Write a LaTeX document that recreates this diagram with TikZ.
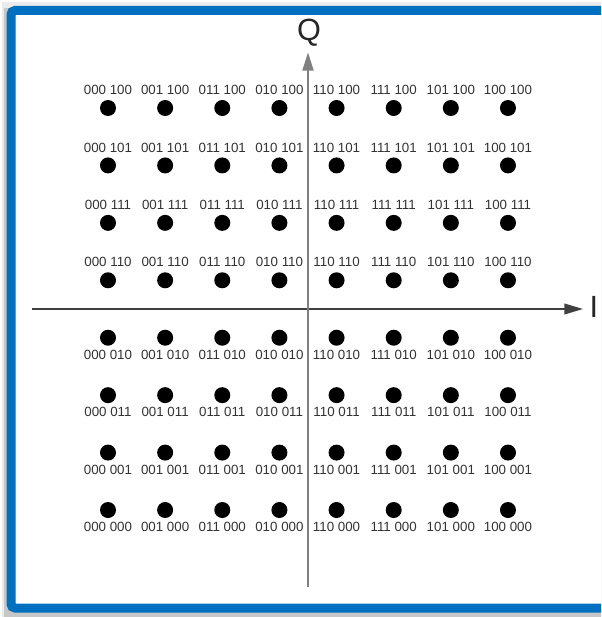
\documentclass[tikz,border=0pt]{standalone}
\usepackage{fontspec}
\setmainfont{Liberation Sans}
\usetikzlibrary{arrows.meta}
\definecolor{frameblue}{HTML}{0070C0}
\definecolor{labelgrey}{HTML}{333333}
\begin{document}
\begin{tikzpicture}[x=0.75pt,y=-0.75pt,
  symbol/.style={circle,fill=black,inner sep=0pt,minimum size=12pt},
  bits/.style={font=\fontsize{10}{10}\selectfont,text=labelgrey,inner sep=0pt},
  axislabel/.style={font=\fontsize{23}{24}\selectfont,text=black!85,inner sep=0pt},
  axisline/.style={-{Triangle[length=14pt,width=8pt]}}]
\useasboundingbox (0,0) rectangle (601,617);
\begin{scope}
  \clip (0,0) rectangle (601,617);
  % page background and soft drop shadow
  \fill[white] (0,0) rectangle (601,617);
  \fill[black!8] (2,2) rectangle (660,617);
  \fill[black!22] (4,8) rectangle (660,617);
  % blue frame
  \draw[frameblue,line width=6.75pt,fill=white,rounded corners=3pt]
    (11,10.5) rectangle (640,608);
\end{scope}

% constellation points: upper half labelled above, lower half below
\foreach \c [count=\i from 0] in {000,001,011,010,110,111,101,100}{
  \foreach \r [count=\j from 0] in {100,101,111,110}{
    \node[symbol,label={[bits,label distance=3.5pt]above:\c\ \r}]
      (p-\i-\j) at ({108+57.14*\i},{108+57.43*\j}) {};
  }
  \foreach \r [count=\j from 4] in {010,011,001,000}{
    \node[symbol,label={[bits,label distance=2.8pt]below:\c\ \r}]
      (p-\i-\j) at ({108+57.14*\i},{108+57.43*\j}) {};
  }
}

% I/Q axes
\coordinate (iStart) at (32,309);
\coordinate (iEnd) at (583,309);
\coordinate (qStart) at (308,587);
\coordinate (qEnd) at (308,52);
\draw[axisline,black!75,line width=1.3pt] (iStart) -- (iEnd);
\draw[axisline,black!50,line width=2.2pt] (qStart) -- (qEnd);
\node[axislabel] (qLabel) at (309,33) {Q};
\node[axislabel] (iLabel) at (594,307) {I};
\end{tikzpicture}
\end{document}
